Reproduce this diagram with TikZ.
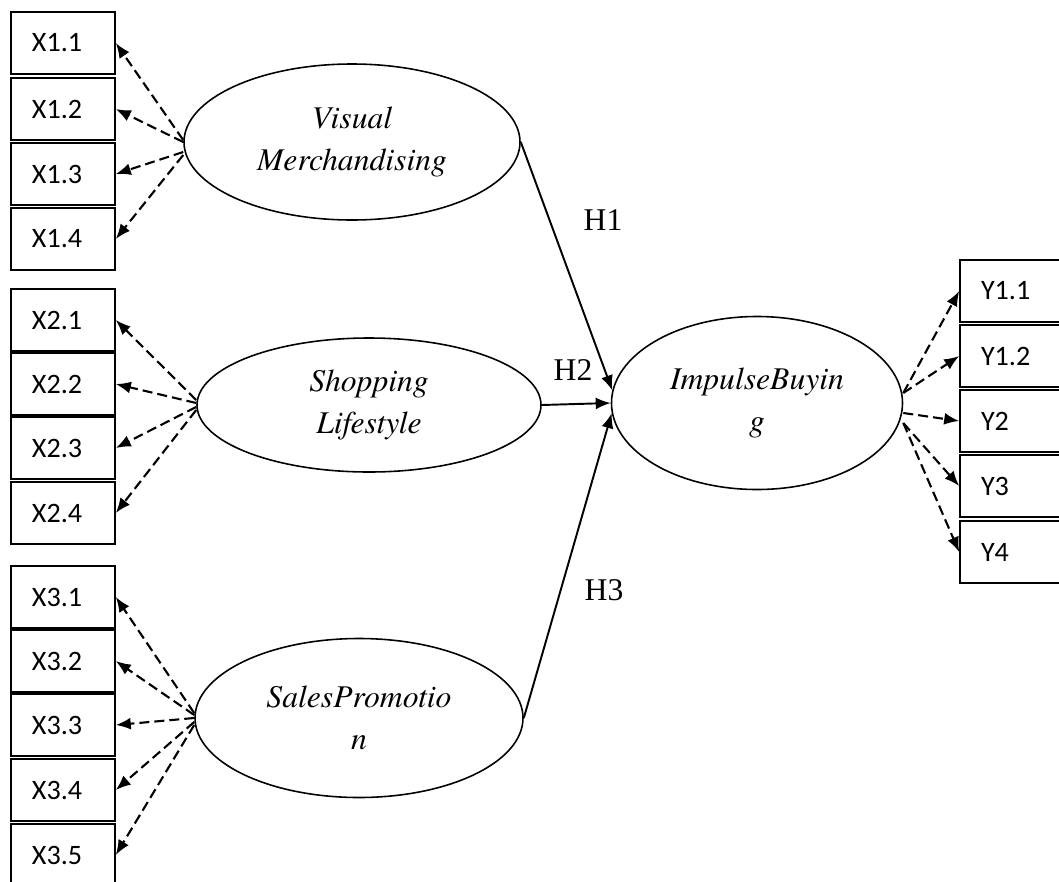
\documentclass[tikz,border=0pt]{standalone}
\usepackage{fontspec}
\setmainfont{Liberation Serif}
\newfontfamily\latfont{texgyretermes-italic.otf}
\newfontfamily\boxfont{Carlito}
\usetikzlibrary{arrows.meta,shapes.geometric}

\tikzset{
  ind/.style={draw, line width=0.9pt, minimum height=12.4mm, text width=12.4mm,
    inner xsep=4.2mm, inner ysep=0pt, align=left, font=\boxfont\fontsize{16}{19}\selectfont},
  lat/.style={draw, ellipse, line width=0.9pt, inner sep=0pt, align=center,
    font=\latfont\fontsize{18}{24}\selectfont},
  load/.style={dash pattern=on 2mm off 1mm, line width=1.2pt,
    -{Latex[length=3mm,width=2.4mm]}},
  hyp/.style={line width=1.1pt, -{Latex[length=3mm,width=2.4mm]}},
  hlab/.style={font=\fontsize{18}{20}\selectfont}
}

\begin{document}
\begin{tikzpicture}[x=0.2mm,y=-0.2mm]
\useasboundingbox (0,0) rectangle (1059,881);
\clip (0,0) rectangle (1059,881);

% indicators, left side
\node[ind] (X11) at (63,43) {X1.1};
\node[ind] (X12) at (63,109) {X1.2};
\node[ind] (X13) at (63,174) {X1.3};
\node[ind] (X14) at (63,239) {X1.4};

\node[ind] (X21) at (63,320) {X2.1};
\node[ind] (X22) at (63,384) {X2.2};
\node[ind] (X23) at (63,448) {X2.3};
\node[ind] (X24) at (63,513) {X2.4};

\node[ind] (X31) at (63,597) {X3.1};
\node[ind] (X32) at (63,661) {X3.2};
\node[ind] (X33) at (63,725) {X3.3};
\node[ind] (X34) at (63,790) {X3.4};
\node[ind] (X35) at (63,855) {X3.5};

% indicators, right side
\node[ind] (Y11) at (1012,291) {Y1.1};
\node[ind] (Y12) at (1012,356) {Y1.2};
\node[ind] (Y2) at (1012,421) {Y2};
\node[ind] (Y3) at (1012,486) {Y3};
\node[ind] (Y4) at (1012,552) {Y4};

% latent variables
\node[lat, minimum width=67.2mm, minimum height=31.2mm] (VM) at (352,142) {Visual\\Merchandising};
\node[lat, minimum width=68.8mm, minimum height=26.8mm] (SL) at (369,405) {Shopping\\Lifestyle};
\node[lat, minimum width=65.6mm, minimum height=31.8mm] (SP) at (359,718) {SalesPromotio\\n};
\node[lat, minimum width=58.2mm, minimum height=34.6mm] (IB) at (757,403) {ImpulseBuyin\\g};

\node[hlab] (H1) at (603,220) {H1};
\node[hlab] (H2) at (573,370) {H2};
\node[hlab] (H3) at (604,590) {H3};

\draw[hyp] (VM.east) -- (IB.175);
\draw[hyp] (SL.east) -- (IB.west);
\draw[hyp] (SP.east) -- (IB.184);

\draw[load] ([yshift=0.4mm]VM.west) -- (X11.east);
\draw[load] (VM.west) -- (X12.east);
\draw[load] ([yshift=-2mm]VM.west) -- (X13.east);
\draw[load] ([yshift=-2.6mm]VM.west) -- (X14.east);

\draw[load] ([yshift=1mm]SL.west) -- (X21.east);
\draw[load] ([yshift=0.4mm]SL.west) -- (X22.east);
\draw[load] ([yshift=-0.4mm]SL.west) -- (X23.east);
\draw[load] ([yshift=-1mm]SL.west) -- (X24.east);

\draw[load] ([yshift=1mm]SP.west) -- (X31.east);
\draw[load] ([yshift=0.6mm]SP.west) -- (X32.east);
\draw[load] (SP.west) -- (X33.east);
\draw[load] ([yshift=-0.8mm]SP.west) -- (X34.east);
\draw[load] ([yshift=-1.4mm]SP.west) -- (X35.east);

\draw[load] ([yshift=2mm]IB.east) -- (Y11.west);
\draw[load] ([yshift=2mm]IB.east) -- (Y12.west);
\draw[load] ([yshift=-2mm]IB.east) -- (Y2.west);
\draw[load] ([yshift=-4mm]IB.east) -- (Y3.west);
\draw[load] ([yshift=-4mm]IB.east) -- (Y4.west);
\end{tikzpicture}
\end{document}
